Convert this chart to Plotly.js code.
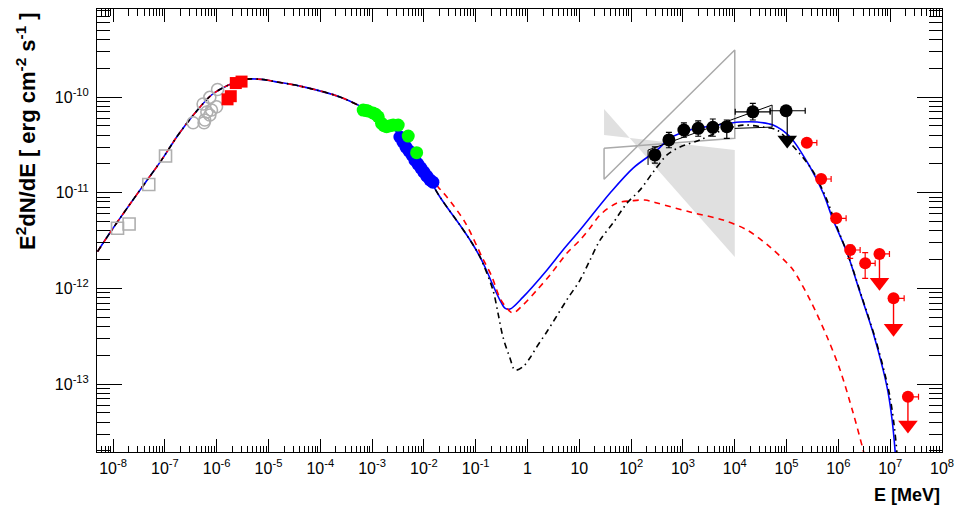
<!DOCTYPE html>
<html><head><meta charset="utf-8">
<script src="https://cdn.plot.ly/plotly-3.0.1.min.js"></script>
<style>html,body{margin:0;padding:0;background:#fff}#chart{width:958px;height:510px}</style>
</head><body><div id="chart"></div>
<script>
// ---------- Model curves ----------
var totalE = [5.01e-9, 9.31e-9, 1.95e-8, 4.09e-8, 8.61e-8, 1.80e-7, 3.78e-7, 7.94e-7, 1.66e-6, 3.49e-6, 7.35e-6, 1.33e-5, 4.06e-5, 2.40e-4, 9.91e-4, 3.44e-3, 8.38e-3, 2.04e-2, 4.95e-2, 8.45e-2, 0.121, 0.165, 0.215, 0.293, 0.366, 0.458, 0.817, 2.38, 4.84, 10.3, 39.2, 109, 316, 564, 1371, 4560, 1.27e4, 2.70e4, 5.50e4, 1.17e5, 2.85e5, 5.08e5, 7.93e5, 1.48e6, 2.64e6, 4.70e6, 7.33e6, 9.16e6, 1.09e7, 1.25e7, 1.41e7];
var totalF = [2.42e-12, 4.02e-12, 7.13e-12, 1.25e-11, 2.19e-11, 4.01e-11, 6.76e-11, 1.05e-10, 1.33e-10, 1.53e-10, 1.53e-10, 1.45e-10, 1.30e-10, 1.00e-10, 6.81e-11, 4.01e-11, 2.04e-11, 9.02e-12, 4.59e-12, 2.98e-12, 2.13e-12, 1.50e-12, 1.08e-12, 7.55e-13, 6.22e-13, 6.08e-13, 8.11e-13, 1.56e-12, 2.52e-12, 4.07e-12, 9.93e-12, 1.81e-11, 2.79e-11, 3.72e-11, 4.52e-11, 5.09e-11, 5.48e-11, 5.48e-11, 5.09e-11, 3.82e-11, 1.85e-11, 9.93e-12, 5.18e-12, 2.34e-12, 8.93e-13, 3.41e-13, 1.40e-13, 8.05e-14, 4.21e-14, 1.95e-14, 7.9e-15];

var sscE = [5.01e-9, 9.31e-9, 1.95e-8, 4.09e-8, 8.61e-8, 1.80e-7, 3.78e-7, 7.94e-7, 1.66e-6, 3.49e-6, 7.35e-6, 1.33e-5, 4.06e-5, 2.40e-4, 9.91e-4, 3.44e-3, 8.38e-3, 1.88e-2, 2.78e-2, 6.18e-2, 0.132, 0.206, 0.293, 0.400, 0.522, 0.817, 1.52, 2.72, 5.79, 10.3, 16.1, 25.1, 53.3, 104, 185, 316, 1371, 5957, 1.73e4, 4.81e4, 1.02e5, 1.34e5, 2.85e5, 6.07e5, 1.08e6, 1.93e6, 3.01e6, 3.55e6];
var sscF = [2.42e-12, 4.02e-12, 7.13e-12, 1.25e-11, 2.19e-11, 4.01e-11, 6.76e-11, 1.05e-10, 1.33e-10, 1.53e-10, 1.53e-10, 1.45e-10, 1.30e-10, 1.00e-10, 6.81e-11, 4.01e-11, 2.04e-11, 1.15e-11, 9.02e-12, 4.93e-12, 2.13e-12, 1.32e-12, 7.93e-13, 6.22e-13, 5.52e-13, 6.70e-13, 9.62e-13, 1.38e-12, 2.34e-12, 3.20e-12, 4.28e-12, 5.85e-12, 7.80e-12, 8.24e-12, 8.38e-12, 7.80e-12, 6.28e-12, 5.18e-12, 4.07e-12, 2.70e-12, 1.84e-12, 1.56e-12, 7.55e-13, 3.10e-13, 1.40e-13, 4.98e-14, 2.04e-14, 1.41e-14];

var ecE = [5.01e-9, 9.31e-9, 1.95e-8, 4.09e-8, 8.61e-8, 1.80e-7, 3.78e-7, 7.94e-7, 1.66e-6, 3.49e-6, 7.35e-6, 1.33e-5, 4.06e-5, 2.40e-4, 9.91e-4, 3.44e-3, 8.38e-3, 2.04e-2, 4.95e-2, 8.45e-2, 0.121, 0.215, 0.269, 0.336, 0.458, 0.571, 0.805, 1.11, 1.46, 2.48, 4.57, 6.04, 10.3, 16.1, 25.1, 44.7, 83.4, 149, 265, 493, 879, 2138, 5957, 1.45e4, 3.52e4, 6.56e4, 1.28e5, 3.12e5, 5.81e5, 9.06e5, 1.61e6, 2.88e6, 5.13e6, 8.00e6, 1.0e7, 1.19e7, 1.36e7, 1.5e7];
var ecF = [2.42e-12, 4.02e-12, 7.13e-12, 1.25e-11, 2.19e-11, 4.01e-11, 6.76e-11, 1.05e-10, 1.33e-10, 1.53e-10, 1.53e-10, 1.45e-10, 1.30e-10, 1.00e-10, 6.81e-11, 4.01e-11, 2.04e-11, 9.02e-12, 4.59e-12, 2.98e-12, 2.13e-12, 9.62e-13, 5.52e-13, 3.10e-13, 1.87e-13, 1.40e-13, 1.51e-13, 1.87e-13, 2.38e-13, 3.67e-13, 6.24e-13, 7.93e-13, 1.22e-12, 1.98e-12, 3.20e-12, 4.82e-12, 7.80e-12, 1.07e-11, 1.64e-11, 2.48e-11, 3.00e-11, 3.56e-11, 4.52e-11, 5.09e-11, 4.85e-11, 4.52e-11, 3.15e-11, 1.73e-11, 8.79e-12, 4.59e-12, 2.07e-12, 7.93e-13, 3.03e-13, 1.24e-13, 7.14e-14, 3.73e-14, 1.82e-14, 7e-15];

// ---------- Butterflies ----------
var egretFillE = [30, 30, 1e4, 1e4, 30];
var egretFillF = [7.50e-11, 4.01e-11, 2.79e-11, 2.13e-12, 7.50e-11];
var egretOutE = [30, 1e4, 1e4, 30, 30];
var egretOutF = [2.91e-11, 3.70e-11, 3.10e-10, 1.38e-11, 2.91e-11];
var latBowE = [212, 212, 5.26e4, 5.26e4, 1e4];
var latBowF = [1.95e-11, 2.79e-11, 8.24e-11, 4.85e-11, 4.70e-11];

// ---------- Data points ----------
var radioE = [1.22e-8, 2.04e-8, 4.89e-8, 1.03e-7];
var radioF = [4.25e-12, 4.71e-12, 1.22e-11, 2.42e-11];

var irE = [3.51e-7, 5.47e-7, 7.38e-7, 1.04e-6, 5.71e-7, 5.90e-7, 7.38e-7, 7.94e-7, 9.93e-7, 6.46e-7];
var irF = [5.38e-11, 8.45e-11, 9.93e-11, 1.20e-10, 5.38e-11, 5.75e-11, 6.49e-11, 7.31e-11, 7.92e-11, 6.97e-11];

var optE = [1.62e-6, 1.87e-6, 2.34e-6, 3.02e-6];
var optF = [9.46e-11, 1.02e-10, 1.40e-10, 1.45e-10];

var xrayBlueE = [3.44e-3, 3.94e-3, 4.50e-3, 5.14e-3, 5.87e-3, 6.71e-3, 7.66e-3, 8.75e-3, 1.00e-2, 1.14e-2, 1.31e-2, 1.49e-2];
var xrayBlueF = [3.82e-11, 3.39e-11, 3.00e-11, 2.73e-11, 2.48e-11, 2.19e-11, 1.99e-11, 1.81e-11, 1.64e-11, 1.49e-11, 1.36e-11, 1.29e-11];

var xrayGreenE = [6.73e-4, 7.59e-4, 8.30e-4, 1.04e-3, 1.17e-3, 1.31e-3, 1.52e-3, 1.70e-3, 1.91e-3, 2.24e-3, 2.55e-3, 3.19e-3, 4.98e-3, 7.24e-3];
var xrayGreenF = [7.31e-11, 7.24e-11, 7.14e-11, 6.81e-11, 6.61e-11, 6.22e-11, 5.31e-11, 5.01e-11, 4.90e-11, 5.01e-11, 5.09e-11, 5.09e-11, 3.91e-11, 2.62e-11];

var latE = [287, 536, 1042, 1968, 3767, 7015, 2.23e4, 9.79e4];
var latF = [2.48e-11, 3.56e-11, 4.52e-11, 4.71e-11, 4.82e-11, 4.90e-11, 7.01e-11, 7.19e-11];
var latFHi = [3.02e-11, 4.27e-11, 5.37e-11, 5.62e-11, 5.89e-11, 5.75e-11, 8.59e-11, 7.19e-11];
var latFLo = [2.04e-11, 2.95e-11, 3.80e-11, 3.89e-11, 3.89e-11, 3.70e-11, 5.75e-11, 7.19e-11];
var latELo = [287, 536, 1042, 1968, 3767, 7015, 1.02e4, 4.82e4];
var latEHi = [287, 536, 1042, 1968, 3767, 7015, 4.82e4, 2.29e5];
var latUlE = [1.03e5];
var latUlF = [3.56e-11];
var latUlTop = [6.20e-11];

var tevE = [2.46e5, 4.65e5, 9.06e5, 1.69e6, 3.29e6];
var tevF = [3.33e-11, 1.39e-11, 5.40e-12, 2.52e-12, 1.83e-12];
var tevEHi = [3.84e5, 7.24e5, 1.41e6, 2.63e6, 5.13e6];
var tevFHi = [3.33e-11, 1.39e-11, 5.40e-12, 2.84e-12, 2.36e-12];
var tevFLo = [3.33e-11, 1.39e-11, 5.40e-12, 2.06e-12, 1.27e-12];

var tevUlE = [6.21e6, 1.16e7, 2.20e7];
var tevUlF = [2.29e-12, 7.87e-13, 7.36e-14];
var tevUlEHi = [9.68e6, 1.86e7, 3.52e7];
var tevUlArrow = [1.16e-12, 3.82e-13, 3.73e-14];

// ---------- Axis ticks ----------
var xTickVals = [1e-8, 1e-7, 1e-6, 1e-5, 1e-4, 1e-3, 1e-2, 1e-1, 1, 10, 1e2, 1e3, 1e4, 1e5, 1e6, 1e7, 1e8];
var xTickText = ['10<sup>-8</sup>', '10<sup>-7</sup>', '10<sup>-6</sup>', '10<sup>-5</sup>', '10<sup>-4</sup>', '10<sup>-3</sup>', '10<sup>-2</sup>', '10<sup>-1</sup>', '1', '10', '10<sup>2</sup>', '10<sup>3</sup>', '10<sup>4</sup>', '10<sup>5</sup>', '10<sup>6</sup>', '10<sup>7</sup>', '10<sup>8</sup>'];
var yTickVals = [1e-13, 1e-12, 1e-11, 1e-10];
var yTickText = ['10<sup>-13</sup>', '10<sup>-12</sup>', '10<sup>-11</sup>', '10<sup>-10</sup>'];

function minorVals(lo, hi) {
  var out = [];
  for (var d = lo; d <= hi; d++) for (var m = 2; m <= 9; m++) out.push(m * Math.pow(10, d));
  return out;
}
function diff(a, b) { return a.map(function (v, i) { return v - b[i]; }); }

var traces = [];
traces.push({x: egretFillE, y: egretFillF, mode: 'lines', fill: 'toself', fillcolor: 'rgb(224,224,224)', line: {width: 0, color: 'rgba(0,0,0,0)'}, hoverinfo: 'skip'});
traces.push({x: egretOutE, y: egretOutF, mode: 'lines', line: {color: 'rgb(170,170,170)', width: 1.5}});
traces.push({x: totalE, y: totalF, mode: 'lines', line: {color: '#0000ff', width: 1.6, shape: 'spline', smoothing: 0.9}});
traces.push({x: sscE, y: sscF, mode: 'lines', line: {color: '#ff0000', width: 1.6, dash: '6px,5px', shape: 'spline', smoothing: 0.9}});
traces.push({x: ecE, y: ecF, mode: 'lines', line: {color: '#000000', width: 1.6, dash: '6px,4px,1.5px,4px', shape: 'spline', smoothing: 0.9}});
traces.push({x: latBowE, y: latBowF, mode: 'lines', line: {color: '#000000', width: 1}});
traces.push({x: radioE, y: radioF, mode: 'markers', marker: {symbol: 'square-open', size: 12, color: 'rgb(175,175,175)', line: {width: 1.6}}});
traces.push({x: irE, y: irF, mode: 'markers', marker: {symbol: 'circle-open', size: 12, color: 'rgb(175,175,175)', line: {width: 1.6}}});
traces.push({x: optE, y: optF, mode: 'markers', marker: {symbol: 'square', size: 12, color: '#ff0000'}});
traces.push({x: xrayBlueE, y: xrayBlueF, mode: 'markers', marker: {symbol: 'circle', size: 13, color: '#0000ff'}});
traces.push({x: xrayGreenE, y: xrayGreenF, mode: 'markers', marker: {symbol: 'circle', size: 13, color: '#00ff00'}});
traces.push({x: latE, y: latF, mode: 'markers', marker: {symbol: 'circle', size: 13, color: '#000000'},
  error_y: {type: 'data', symmetric: false, array: diff(latFHi, latF), arrayminus: diff(latF, latFLo), color: '#000', thickness: 1.2, width: 3},
  error_x: {type: 'data', symmetric: false, array: diff(latEHi, latE), arrayminus: diff(latE, latELo), color: '#000', thickness: 1.2, width: 3}});
traces.push({x: latUlE, y: latUlF, mode: 'markers', marker: {symbol: 'triangle-down', size: 17, color: '#000000'},
  error_y: {type: 'data', symmetric: false, array: diff(latUlTop, latUlF), arrayminus: [0], color: '#000', thickness: 1.2, width: 0}});
traces.push({x: tevE, y: tevF, mode: 'markers', marker: {symbol: 'circle', size: 12, color: '#ff0000'},
  error_x: {type: 'data', symmetric: false, array: diff(tevEHi, tevE), arrayminus: [0, 0, 0, 0, 0], color: '#ff0000', thickness: 1.2, width: 3},
  error_y: {type: 'data', symmetric: false, array: diff(tevFHi, tevF), arrayminus: diff(tevF, tevFLo), color: '#ff0000', thickness: 1.2, width: 3}});
traces.push({x: tevUlE, y: tevUlF, mode: 'markers', marker: {symbol: 'circle', size: 12, color: '#ff0000'},
  error_x: {type: 'data', symmetric: false, array: diff(tevUlEHi, tevUlE), arrayminus: [0, 0, 0], color: '#ff0000', thickness: 1.2, width: 3},
  error_y: {type: 'data', symmetric: false, array: [0, 0, 0], arrayminus: diff(tevUlF, tevUlArrow), color: '#ff0000', thickness: 1.4, width: 0}});
traces.push({x: tevUlE, y: tevUlArrow, mode: 'markers', marker: {symbol: 'triangle-down', size: 17, color: '#ff0000'}});

var axisCommon = {
  type: 'log', showgrid: false, zeroline: false, showline: true, linecolor: '#000', linewidth: 1,
  mirror: 'allticks', ticks: 'inside', tickcolor: '#000', tickwidth: 1, tickmode: 'array',
  tickfont: {family: 'Liberation Sans, Arial, sans-serif', size: 16, color: '#000'}
};
var layout = {
  width: 958, height: 510, showlegend: false,
  paper_bgcolor: '#fff', plot_bgcolor: '#fff',
  margin: {l: 97, r: 16, t: 9, b: 58},
  xaxis: Object.assign({}, axisCommon, {range: [-8.31, 8.0], tickvals: xTickVals, ticktext: xTickText, ticklen: 13, ticklabelstandoff: 2,
    minor: {tickmode: 'array', tickvals: minorVals(-9, 7), ticks: 'inside', ticklen: 6.5, tickcolor: '#000', tickwidth: 1}}),
  yaxis: Object.assign({}, axisCommon, {range: [-13.71, -9.08], tickvals: yTickVals, ticktext: yTickText, ticklen: 25, ticklabelstandoff: 4,
    minor: {tickmode: 'array', tickvals: minorVals(-14, -9), ticks: 'inside', ticklen: 13, tickcolor: '#000', tickwidth: 1}}),
  annotations: [
    {text: '<b>E<sup>2</sup>dN/dE [ erg cm<sup>-2</sup> s<sup>-1</sup> ]</b>', xref: 'paper', yref: 'paper', x: 0, y: 1,
     xanchor: 'center', yanchor: 'top', xshift: -71, yshift: -1, textangle: -90, showarrow: false,
     font: {family: 'Liberation Sans, Arial, sans-serif', size: 22, color: '#000'}},
    {text: '<b>E [MeV]</b>', xref: 'paper', yref: 'paper', x: 1, y: 0, xanchor: 'right', yanchor: 'middle',
     yshift: -43, showarrow: false, font: {family: 'Liberation Sans, Arial, sans-serif', size: 18, color: '#000'}}
  ]
};
Plotly.newPlot('chart', traces, layout, {staticPlot: true});
</script></body></html>
